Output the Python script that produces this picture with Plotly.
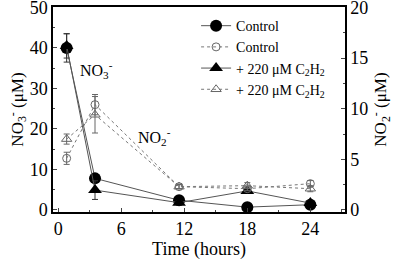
import plotly.graph_objects as go

time_h = [0.8, 3.5, 11.5, 18, 24]
no3_control = [40.0, 7.8, 2.4, 0.7, 1.3]
no3_control_err = [3.5, 1.0, 0.5, 0.3, 0.5]
no3_c2h2 = [40.5, 4.9, 1.8, 4.7, 1.7]
no3_c2h2_err = [3.0, 2.3, 0.5, 0.5, 0.5]
no2_control = [5.1, 10.4, 2.3, 2.1, 2.6]
no2_control_err = [0.6, 1.0, 0.2, 0.2, 0.3]
no2_c2h2 = [7.0, 9.4, 2.3, 2.4, 2.1]
no2_c2h2_err = [0.5, 1.8, 0.2, 0.3, 0.3]

FONT = "Liberation Serif"
fig = go.Figure()

def err(arr, color):
    return dict(type="data", array=arr, visible=True, color=color, thickness=1, width=3)

fig.add_trace(go.Scatter(x=time_h, y=no3_control, name="Control", mode="lines+markers",
                         line=dict(color="#555555", width=1),
                         marker=dict(symbol="circle", size=12, color="black"),
                         error_y=err(no3_control_err, "#333333")))
fig.add_trace(go.Scatter(x=time_h, y=no2_control, name="Control", mode="lines+markers", yaxis="y2",
                         line=dict(color="#777777", width=1, dash="dot"),
                         marker=dict(symbol="circle-open", size=8, color="#666666", line=dict(width=1)),
                         error_y=err(no2_control_err, "#666666")))
fig.add_trace(go.Scatter(x=time_h, y=no3_c2h2, name="+ 220 μM C<sub>2</sub>H<sub>2</sub>", mode="lines+markers",
                         line=dict(color="#555555", width=1),
                         marker=dict(symbol="triangle-up", size=12, color="black"),
                         error_y=err(no3_c2h2_err, "#333333")))
fig.add_trace(go.Scatter(x=time_h, y=no2_c2h2, name="+ 220 μM C<sub>2</sub>H<sub>2</sub>", mode="lines+markers", yaxis="y2",
                         line=dict(color="#777777", width=1, dash="dot"),
                         marker=dict(symbol="triangle-up-open", size=9, color="#666666", line=dict(width=1)),
                         error_y=err(no2_c2h2_err, "#666666")))

fig.add_annotation(x=1.9, y=34.6, text="NO<sub>3</sub><sup>-</sup>", showarrow=False, xanchor="left",
                   font=dict(family=FONT, size=16, color="black"))
fig.add_annotation(x=7.4, y=18, text="NO<sub>2</sub><sup>-</sup>", showarrow=False, xanchor="left",
                   font=dict(family=FONT, size=16, color="black"))

fig.update_layout(
    width=400, height=261,
    margin=dict(l=53, r=55, t=7, b=49),
    paper_bgcolor="white", plot_bgcolor="white",
    font=dict(family=FONT, size=18, color="black"),
    showlegend=True,
    legend=dict(x=0.49, y=0.985, xanchor="left", yanchor="top", bgcolor="rgba(0,0,0,0)",
                font=dict(family=FONT, size=14), tracegroupgap=0),
    xaxis=dict(range=[-0.5, 27.3], tickvals=[0, 6, 12, 18, 24], ticks="inside", ticklen=4,
               showline=True, linecolor="black", linewidth=1.5, mirror=True, showgrid=False, zeroline=False,
               minor=dict(dtick=3, ticks="inside", ticklen=2, tick0=0), automargin=False,
               ticklabeloverflow="allow",
               title=dict(text="Time (hours)", font=dict(size=18), standoff=2)),
    yaxis=dict(range=[-0.5, 50.1], tickvals=[0, 10, 20, 30, 40, 50], ticks="inside", ticklen=4,
               showline=True, linecolor="black", linewidth=1.5, showgrid=False, zeroline=False,
               minor=dict(dtick=5, ticks="inside", ticklen=2), automargin=False,
               ticklabeloverflow="allow",
               title=dict(text="NO<sub>3</sub><sup>-</sup> (μM)", font=dict(size=17), standoff=2)),
    yaxis2=dict(range=[-0.2, 20.04], tickvals=[0, 5, 10, 15, 20], ticks="inside", ticklen=4, overlaying="y", side="right",
                showline=True, linecolor="black", linewidth=1.5, showgrid=False, zeroline=False,
                minor=dict(dtick=2.5, ticks="inside", ticklen=2), automargin=False,
                ticklabeloverflow="allow",
                title=dict(text="NO<sub>2</sub><sup>-</sup> (μM)", font=dict(size=17), standoff=2)),
)

fig.write_html("out.html", config={"displayModeBar": False},
               post_script="document.body.style.margin='0';document.body.style.overflow='hidden';")
